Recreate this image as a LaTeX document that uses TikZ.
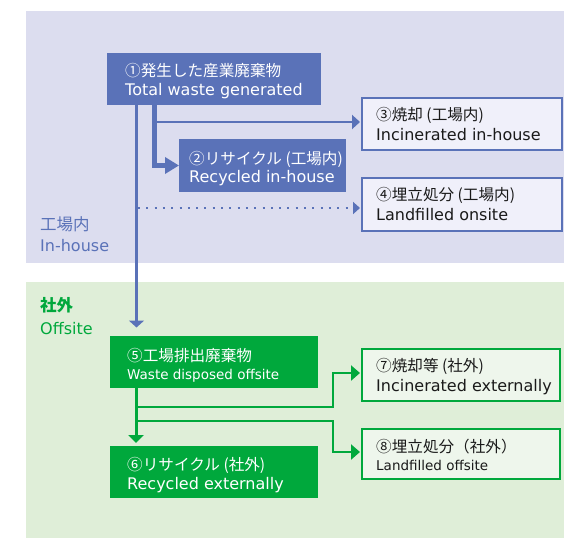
\documentclass[tikz,border=0pt]{standalone}
\usepackage{fontspec}
\setmainfont{DejaVu Sans}
\newfontfamily\jp{Noto Sans CJK JP}
\usetikzlibrary{arrows.meta}
\definecolor{bbg}{HTML}{DCDDEF}
\definecolor{gbg}{HTML}{DFEED8}
\definecolor{bmain}{HTML}{5A72B8}
\definecolor{gmain}{HTML}{00A83C}
\definecolor{blite}{HTML}{F0F0FA}
\definecolor{glite}{HTML}{EEF6EC}
\definecolor{ink}{HTML}{1A1A1A}
\tikzset{
  bfill/.style={fill=bmain, draw=none, inner sep=0, outer sep=0, anchor=north west},
  gfill/.style={fill=gmain, draw=none, inner sep=0, outer sep=0, anchor=north west},
  bline/.style={fill=blite, draw=bmain, line width=2pt, inner sep=0, outer sep=1pt, anchor=north west},
  gline/.style={fill=glite, draw=gmain, line width=2pt, inner sep=0, outer sep=1pt, anchor=north west},
  jpt/.style={font=\jp\fontsize{15.6}{18}\selectfont, inner sep=0, anchor=base west},
  ent/.style={font=\fontsize{16}{19}\selectfont, inner sep=0, anchor=base west},
  ens/.style={font=\fontsize{13.5}{16}\selectfont, inner sep=0, anchor=base west},
  sidejp/.style={font=\jp\fontsize{16.5}{19}\selectfont, inner sep=0, anchor=base west},
}
\begin{document}
\begin{tikzpicture}[x=1pt,y=-1pt]
\useasboundingbox (0,0) rectangle (564,538);
% backgrounds
\fill[bbg] (26,11) rectangle (564,263);
\fill[gbg] (26,282) rectangle (564,538);

% side labels
\node[sidejp, text=bmain] (lin1) at (40,230) {工場内};
\node[ent, text=bmain] (lin2) at (40,251.5) {In-house};
\node[sidejp, text=gmain, font=\jp\bfseries\fontsize{16.5}{19}\selectfont] (lout1) at (40,311) {社外};
\node[ent, text=gmain] (lout2) at (40,334) {Offsite};

% boxes
\node[bfill, minimum width=214pt, minimum height=52pt] (n1) at (107,53) {};
\node[bfill, minimum width=167pt, minimum height=53pt] (n2) at (179,139) {};
\node[bline, minimum width=200pt, minimum height=52pt] (n3) at (361,97) {};
\node[bline, minimum width=200pt, minimum height=53pt] (n4) at (361,177) {};
\node[gfill, minimum width=208pt, minimum height=52pt] (n5) at (110,336) {};
\node[gfill, minimum width=208pt, minimum height=52pt] (n6) at (110,446) {};
\node[gline, minimum width=198pt, minimum height=52pt] (n7) at (361,348) {};
\node[gline, minimum width=198pt, minimum height=50pt] (n8) at (361,428) {};

% texts
\node[jpt, text=white] (t1a) at (125,76) {①発生した産業廃棄物};
\node[ent, text=white] (t1b) at (125,95) {Total waste generated};
\node[jpt, text=white] (t2a) at (189,164) {②リサイクル (工場内)};
\node[ent, text=white] (t2b) at (189,182.5) {Recycled in-house};
\node[jpt, text=ink] (t3a) at (376,120) {③焼却 (工場内)};
\node[ent, text=ink] (t3b) at (376,140) {Incinerated in-house};
\node[jpt, text=ink] (t4a) at (376,200) {④埋立処分 (工場内)};
\node[ent, text=ink] (t4b) at (376,220.5) {Landfilled onsite};
\node[jpt, text=white] (t5a) at (127,361) {⑤工場排出廃棄物};
\node[ens, text=white] (t5b) at (127,379) {Waste disposed offsite};
\node[jpt, text=white] (t6a) at (127,470) {⑥リサイクル (社外)};
\node[ent, text=white] (t6b) at (127,489) {Recycled externally};
\node[jpt, text=ink] (t7a) at (376,371) {⑦焼却等 (社外)};
\node[ent, text=ink] (t7b) at (376,391.5) {Incinerated externally};
\node[jpt, text=ink] (t8a) at (376,452) {⑧埋立処分（社外）};
\node[ens, text=ink] (t8b) at (376,470) {Landfilled offsite};

% blue connectors
\draw[bmain, line width=3pt, -{Triangle[length=7pt,width=15pt]}, shorten >=8.5pt]
  ([xshift=29.5pt]n1.south west) -- ([xshift=26.5pt]n5.north west);
\draw[bmain, line width=5pt, -{Triangle[length=14pt,width=16pt]}]
  ([xshift=47pt]n1.south west) |- (n2.west);
\coordinate (bx) at ([xshift=49pt]n1.south west);
\draw[bmain, line width=2.5pt, -{Triangle[length=8pt,width=14pt]}, shorten >=1pt]
  (bx |- n3.west) ++(0,-2) -- ([yshift=2pt]n3.west);
\coordinate (mx) at ([xshift=31pt]n1.south west);
\draw[bmain, line width=2pt, dash pattern=on 2pt off 6.3pt, -{Triangle[length=7pt,width=12pt]}, shorten >=1pt]
  (mx |- n4.west) ++(0,3.5) -- ([yshift=-3.5pt]n4.west);

% green connectors
\draw[gmain, line width=3pt, -{Triangle[length=8pt,width=15pt]}, shorten >=3pt]
  ([xshift=26pt]n5.south west) -- ([xshift=26pt]n6.north west);
\coordinate (g1) at (136,407);
\coordinate (g2) at (136,421);
\coordinate (jx) at (333,0);
\draw[gmain, line width=2.5pt, -{Triangle[length=9pt,width=15pt]}, shorten >=1pt]
  (g1) -- (g1 -| jx) |- ([yshift=2pt]n7.west);
\draw[gmain, line width=2.5pt, -{Triangle[length=9pt,width=15pt]}, shorten >=1pt]
  (g2) -- (g2 -| jx) |- ([yshift=2pt]n8.west);
\end{tikzpicture}
\end{document}
